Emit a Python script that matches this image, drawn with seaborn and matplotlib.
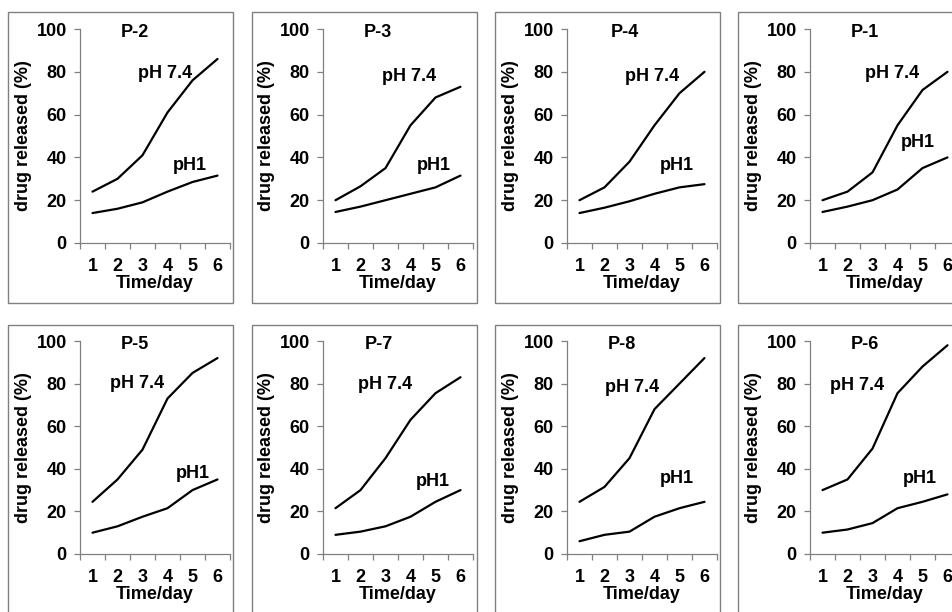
import matplotlib
matplotlib.use("Agg")
import matplotlib.pyplot as plt
import seaborn as sns
from matplotlib.patches import Rectangle

# Données (% de médicament libéré par jour)
days = [1, 2, 3, 4, 5, 6]
panel_names = ["P-2", "P-3", "P-4", "P-1", "P-5", "P-7", "P-8", "P-6"]
release_ph74 = [
    [24, 30, 41, 61, 76, 86],
    [20, 26.5, 35, 55, 68, 73],
    [20, 26, 38, 55, 70, 80],
    [20, 24, 33, 55, 71.5, 80],
    [24.5, 35, 49, 73, 85, 92],
    [21.5, 30, 45, 63, 75.5, 83],
    [24.5, 31.5, 45, 68, 80, 92],
    [30, 35, 49.5, 75.5, 88, 98],
]
release_ph1 = [
    [14, 16, 19, 24, 28.5, 31.5],
    [14.5, 17, 20, 23, 26, 31.5],
    [14, 16.5, 19.5, 23, 26, 27.5],
    [14.5, 17, 20, 25, 35, 40],
    [10, 13, 17.5, 21.5, 30, 35],
    [9, 10.5, 13, 17.5, 24.5, 30],
    [6, 9, 10.5, 17.5, 21.5, 24.5],
    [10, 11.5, 14.5, 21.5, 24.5, 28],
]
yticks = [0, 20, 40, 60, 80, 100]

# Position des étiquettes dans chaque panneau (x, y en unités de données)
title_pos = [(2.7, 98.5), (2.7, 98.5), (2.8, 98.5), (2.7, 98.5),
             (2.7, 98.5), (2.75, 98.5), (2.7, 98.5), (2.7, 98.5)]
ph74_pos = [(3.9, 79), (3.95, 78), (3.9, 78), (3.8, 79),
            (2.8, 80), (3.0, 79.5), (3.1, 78), (2.4, 79)]
ph1_pos = [(4.9, 36), (4.95, 36), (4.9, 36), (4.8, 47),
           (5.0, 38), (4.9, 34), (4.9, 35.5), (4.9, 35.5)]

sns.set_theme(style="white")
plt.rcParams["font.family"] = ["Liberation Sans", "DejaVu Sans"]
plt.rcParams["font.weight"] = "bold"
plt.rcParams["text.color"] = "black"
plt.rcParams["axes.labelcolor"] = "black"

FS = 13
W, H = 953, 612
fig = plt.figure(figsize=(W / 100, H / 100), dpi=100)
fig.patch.set_facecolor("white")

grey = "#808080"
ax_left = [80, 323, 567, 810]
box_left = [8, 252, 495, 738]
rows = [dict(top=29, bottom=243, box_top=12, box_bottom=303),
        dict(top=341, bottom=554, box_top=325, box_bottom=616)]

for i, name in enumerate(panel_names):
    r, c = divmod(i, 4)
    row = rows[r]

    # cadre gris autour du panneau
    fig.patches.append(Rectangle((box_left[c] / W, 1 - row["box_bottom"] / H),
                                 225 / W, (row["box_bottom"] - row["box_top"]) / H,
                                 transform=fig.transFigure, fill=False,
                                 edgecolor=grey, linewidth=1.0, clip_on=False))

    ax = fig.add_axes([ax_left[c] / W, 1 - row["bottom"] / H,
                       150 / W, (row["bottom"] - row["top"]) / H])
    ax.set_facecolor("none")

    sns.lineplot(x=days, y=release_ph74[i], ax=ax, color="black", linewidth=1.6)
    sns.lineplot(x=days, y=release_ph1[i], ax=ax, color="black", linewidth=1.6)

    ax.set_xlim(0.5, 6.5)
    ax.set_ylim(0, 100)
    ax.set_yticks(yticks)
    ax.set_xticks(days)
    ax.set_xticks([d - 0.5 for d in days] + [6.5], minor=True)

    for s in ["top", "right"]:
        ax.spines[s].set_visible(False)
    for s in ["left", "bottom"]:
        ax.spines[s].set_color(grey)
        ax.spines[s].set_linewidth(0.9)

    ax.tick_params(axis="y", which="major", direction="out", length=4, width=0.9,
                   color=grey, labelcolor="black", pad=5.5, labelsize=FS, left=True)
    ax.tick_params(axis="x", which="major", length=0, pad=10.5, labelsize=FS,
                   labelcolor="black")
    ax.tick_params(axis="x", which="minor", direction="out", length=4, width=0.9,
                   color=grey, bottom=True)
    for lab in ax.get_xticklabels() + ax.get_yticklabels():
        lab.set_fontweight("bold")

    ax.set_xlabel("Time/day", fontsize=FS, fontweight="bold", labelpad=0)
    ax.set_ylabel("drug released (%)", fontsize=FS, fontweight="bold", labelpad=3)

    ax.text(*title_pos[i], name, ha="center", va="center",
            fontsize=FS, fontweight="bold", clip_on=False)
    ax.text(*ph74_pos[i], "pH 7.4", ha="center", va="center",
            fontsize=FS, fontweight="bold")
    ax.text(*ph1_pos[i], "pH1", ha="center", va="center",
            fontsize=FS, fontweight="bold")

fig.savefig("out.png", dpi=100)
